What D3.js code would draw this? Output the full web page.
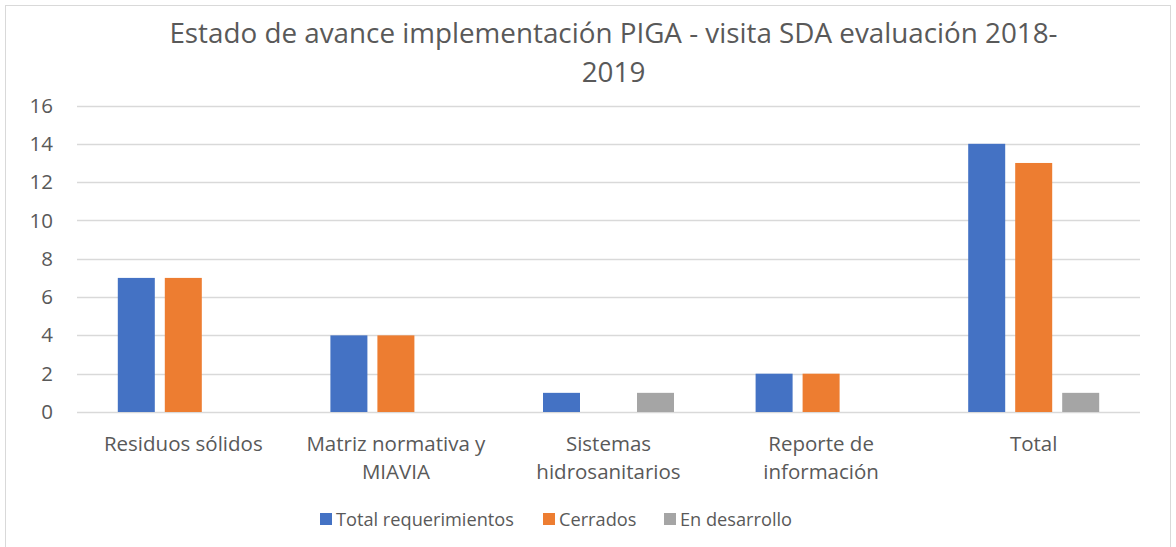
<!DOCTYPE html>
<html>
<head>
<meta charset="utf-8">
<script src="https://cdn.jsdelivr.net/npm/d3@7"></script>
<style>
  html, body { margin: 0; padding: 0; background: #fff; }
  svg { display: block; font-family: "Open Sans", "Noto Sans", sans-serif; }
</style>
</head>
<body>
<svg id="chart" width="1176" height="547"></svg>
<script>
// Categories (line breaks mark where axis labels wrap)
const categories = [
  "Residuos sólidos",
  "Matriz normativa y\nMIAVIA",
  "Sistemas\nhidrosanitarios",
  "Reporte de\ninformación",
  "Total"
];
const seriesNames = ["Total requerimientos", "Cerrados", "En desarrollo"];
const totalRequerimientos = [7, 4, 1, 2, 14];
const cerrados = [7, 4, 0, 2, 13];
const enDesarrollo = [0, 0, 1, 0, 1];
const yTicks = [0, 2, 4, 6, 8, 10, 12, 14, 16];
const titleLines = ["Estado de avance implementación PIGA - visita SDA evaluación 2018-", "2019"];

const colors = ["#4472C4", "#ED7D31", "#A5A5A5"];
const seriesValues = [totalRequerimientos, cerrados, enDesarrollo];

const svg = d3.select("#chart");
const W = 1176, H = 547;
const textColor = "#595959";
const font = "'Open Sans', 'Noto Sans', sans-serif";

// outer chart frame
svg.append("rect")
  .attr("x", 5.5).attr("y", 5.5)
  .attr("width", W - 11).attr("height", H + 10)
  .attr("fill", "#fff").attr("stroke", "#D9D9D9").attr("stroke-width", 1);

const plot = { left: 77, right: 1140, top: 105.5, bottom: 412 };

const x0 = d3.scaleBand().domain(categories).range([plot.left, plot.right]).padding(0);
const y = d3.scaleLinear().domain([0, 16]).range([plot.bottom, plot.top]);

// title
svg.append("g").selectAll("text").data(titleLines).join("text")
  .attr("x", (plot.left + plot.right) / 2 + 5)
  .attr("y", (d, i) => 43 + i * 39)
  .attr("text-anchor", "middle")
  .attr("font-size", 27.8)
  .attr("fill", textColor)
  .text(d => d);

// gridlines
svg.append("g").selectAll("line").data(yTicks).join("line")
  .attr("x1", plot.left).attr("x2", plot.right)
  .attr("y1", d => Math.round(y(d)) + 0.5).attr("y2", d => Math.round(y(d)) + 0.5)
  .attr("stroke", "#D9D9D9").attr("stroke-width", 1.3);

// y-axis labels
const yAxis = d3.axisLeft(y).tickValues(yTicks).tickSize(0).tickPadding(0);
const yg = svg.append("g").attr("transform", `translate(${53},0)`).call(yAxis);
yg.select(".domain").remove();
yg.selectAll("text").attr("font-size", 20.5).attr("fill", textColor)
  .attr("font-family", font);

// bars
const barW = 37, gap = 10;
const groupW = barW * 3 + gap * 2;
const bars = svg.append("g");
categories.forEach((c, ci) => {
  const cx = x0(c) + x0.bandwidth() / 2;
  seriesValues.forEach((vals, si) => {
    const v = vals[ci];
    if (v <= 0) return;
    const bx = cx - groupW / 2 + si * (barW + gap);
    bars.append("rect")
      .attr("x", bx).attr("y", y(v))
      .attr("width", barW).attr("height", y(0) - y(v))
      .attr("fill", colors[si]);
  });
});

// category labels
const xg = svg.append("g");
categories.forEach(c => {
  const cx = x0(c) + x0.bandwidth() / 2;
  const lines = c.split("\n");
  xg.append("text")
    .attr("x", cx).attr("y", 451)
    .attr("text-anchor", "middle")
    .attr("font-size", 20.5).attr("fill", textColor)
    .selectAll("tspan").data(lines).join("tspan")
      .attr("x", cx).attr("dy", (d, i) => i === 0 ? 0 : 28)
      .text(d => d);
});

// legend
const legendX = [320, 543, 664];
const lg = svg.append("g");
seriesNames.forEach((name, i) => {
  lg.append("rect")
    .attr("x", legendX[i]).attr("y", 513)
    .attr("width", 12).attr("height", 12)
    .attr("fill", colors[i]);
  lg.append("text")
    .attr("x", legendX[i] + 16).attr("y", 526)
    .attr("font-size", 18.2).attr("fill", textColor)
    .text(name);
});
</script>
</body>
</html>
